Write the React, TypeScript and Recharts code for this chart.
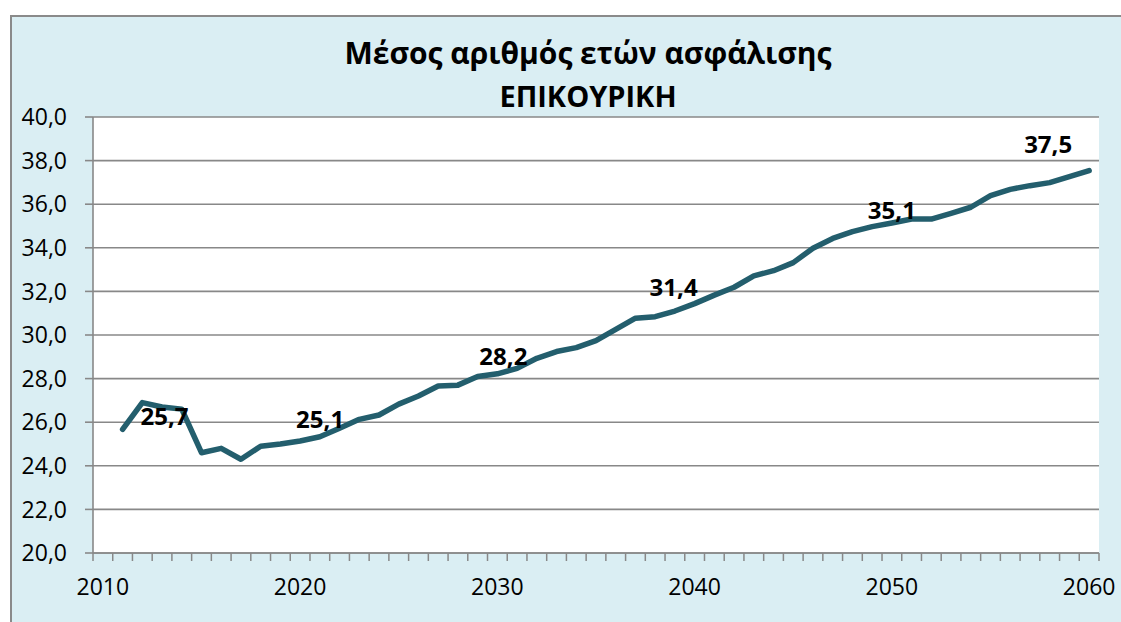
import React from 'react';
import { LineChart, Line, XAxis, YAxis, CartesianGrid, LabelList } from 'recharts';

const years = [
  2011, 2012, 2013, 2014, 2015, 2016, 2017, 2018, 2019, 2020,
  2021, 2022, 2023, 2024, 2025, 2026, 2027, 2028, 2029, 2030,
  2031, 2032, 2033, 2034, 2035, 2036, 2037, 2038, 2039, 2040,
  2041, 2042, 2043, 2044, 2045, 2046, 2047, 2048, 2049, 2050,
  2051, 2052, 2053, 2054, 2055, 2056, 2057, 2058, 2059, 2060,
];

const avgInsuranceYears = [
  25.67, 26.9, 26.7, 26.6, 24.6, 24.8, 24.3, 24.9, 25.0, 25.14,
  25.33, 25.72, 26.13, 26.33, 26.83, 27.2, 27.66, 27.7, 28.1, 28.22,
  28.47, 28.93, 29.24, 29.42, 29.74, 30.26, 30.77, 30.84, 31.1, 31.44,
  31.83, 32.19, 32.71, 32.95, 33.32, 33.98, 34.43, 34.74, 34.97, 35.14,
  35.32, 35.32, 35.58, 35.86, 36.39, 36.68, 36.85, 36.99, 37.26, 37.54,
];

const labelYears = [2011, 2020, 2030, 2040, 2050, 2060];
const yTicks = [20, 22, 24, 26, 28, 30, 32, 34, 36, 38, 40];
const xLabelTicks = [2010, 2020, 2030, 2040, 2050, 2060];
const titleLines = ['Μέσος αριθμός ετών ασφάλισης', 'ΕΠΙΚΟΥΡΙΚΗ'];

// tick marks sit on the category boundaries (between years)
const xBoundaryTicks = Array.from({ length: 52 }, (_, i) => 2009.5 + i);
const xTicks = [...xBoundaryTicks, ...xLabelTicks].sort((a, b) => a - b);

// manual label placement (pixel offsets from the point), like the original
const labelOffsets: Record<number, [number, number]> = {
  2011: [42, -4],
  2020: [20, -13],
  2030: [6, -9],
  2040: [-21, -8],
  2050: [0, -4],
  2060: [-41, -18],
};

const data = years.map((year, i) => ({
  year,
  value: avgInsuranceYears[i],
  label: labelYears.includes(year) ? avgInsuranceYears[i] : null,
}));

const FONT = '"Open Sans", "Noto Sans", sans-serif';
const GRID = '#888888';
const LINE = '#235E6D';

const fmt = (v: number) => v.toFixed(1).replace('.', ',');

const XTick = (props: any) => {
  const { x, y, payload } = props;
  const v = payload.value as number;
  if (xLabelTicks.includes(v)) {
    return (
      <text x={x} y={y + 34} textAnchor="middle" fontFamily={FONT} fontSize={23} fill="#000">
        {v}
      </text>
    );
  }
  return <line x1={x} x2={x} y1={y - 8} y2={y} stroke={GRID} strokeWidth={1.5} />;
};

const PointLabel = (props: any) => {
  const { x, y, value, index } = props;
  if (value === null || value === undefined) return null;
  const year = data[index]?.year;
  const off = labelOffsets[year] || [0, -8];
  return (
    <text
      x={x + off[0]}
      y={y + off[1]}
      textAnchor="middle"
      fontFamily={FONT}
      fontWeight="bold"
      fontSize={24}
      fill="#000"
    >
      {fmt(value)}
    </text>
  );
};

export default function App() {
  return (
    <div
      style={{
        position: 'absolute',
        left: 0,
        top: 0,
        width: 1121,
        height: 622,
        overflow: 'hidden',
        background: '#fff',
      }}
    >
      <div
        style={{
          position: 'absolute',
          left: 10,
          top: 15,
          width: 1140,
          height: 640,
          background: '#DAEEF3',
          borderLeft: '2px solid #8a8a8a',
          borderTop: '2px solid #8a8a8a',
        }}
      />
      <div style={{ position: 'absolute', left: 0, top: 0 }}>
        <LineChart
          width={1121}
          height={622}
          data={data}
          margin={{ top: 117, right: 22, bottom: 29, left: 0 }}
        >
          <CartesianGrid
            vertical={false}
            fill="#ffffff"
            stroke={GRID}
            strokeWidth={1.6}
          />
          <XAxis
            dataKey="year"
            type="number"
            domain={[2009.5, 2060.5]}
            ticks={xTicks}
            interval={0}
            tick={<XTick />}
            tickLine={false}
            tickSize={8}
            tickMargin={0}
            height={40}
            axisLine={{ stroke: GRID, strokeWidth: 1.6 }}
          />
          <YAxis
            domain={[20, 40]}
            ticks={yTicks}
            interval={0}
            tickFormatter={fmt}
            width={93}
            tickSize={8}
            tickMargin={18}
            tickLine={{ stroke: GRID, strokeWidth: 1.6 }}
            axisLine={{ stroke: GRID, strokeWidth: 1.6 }}
            tick={{ fontFamily: FONT, fontSize: 23, fill: '#000' }}
          />
          <Line
            dataKey="value"
            type="linear"
            stroke={LINE}
            strokeWidth={5.5}
            strokeLinejoin="round"
            strokeLinecap="round"
            dot={false}
            activeDot={false}
            isAnimationActive={false}
          >
            <LabelList dataKey="label" content={<PointLabel />} />
          </Line>
        </LineChart>
      </div>
      <svg
        width={1121}
        height={130}
        style={{ position: 'absolute', left: 0, top: 0, pointerEvents: 'none' }}
      >
        <text x={588} y={64} textAnchor="middle" fontFamily={FONT} fontWeight="bold" fontSize={30} fill="#000">
          {titleLines[0]}
        </text>
        <text x={588} y={107} textAnchor="middle" fontFamily={FONT} fontWeight="bold" fontSize={29} fill="#000">
          {titleLines[1]}
        </text>
      </svg>
    </div>
  );
}
